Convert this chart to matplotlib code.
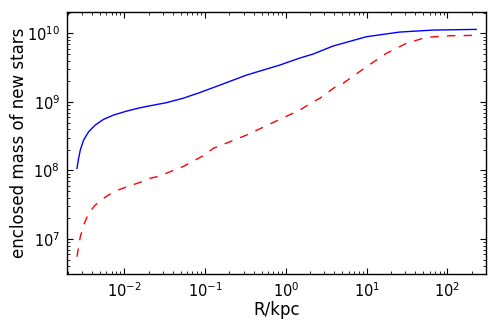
import numpy as np
import matplotlib
matplotlib.use("Agg")
import matplotlib.pyplot as plt

# log10(R/kpc), log10(M)
blue_logR = [-2.584, -2.564, -2.543, -2.502, -2.440, -2.358, -2.255, -2.131, -1.966, -1.802,
             -1.679, -1.481, -1.275, -1.070, -0.814, -0.485, -0.074, 0.173, 0.337, 0.584,
             0.997, 1.408, 1.819, 2.355]
blue_logM = [8.031, 8.177, 8.298, 8.444, 8.565, 8.663, 8.746, 8.809, 8.867, 8.915,
             8.944, 8.988, 9.052, 9.134, 9.246, 9.392, 9.538, 9.640, 9.698, 9.815,
             9.951, 10.019, 10.048, 10.058]
red_logR = [-2.584, -2.543, -2.493, -2.440, -2.358, -2.255, -2.131, -1.966, -1.802, -1.679,
            -1.564, -1.275, -1.028, -0.897, -0.485, -0.074, 0.173, 0.337, 0.420, 0.605,
            0.708, 0.997, 1.243, 1.490, 1.737, 2.025, 2.355]
red_logM = [6.742, 7.034, 7.229, 7.375, 7.496, 7.594, 7.690, 7.763, 7.827, 7.885,
            7.919, 8.055, 8.211, 8.323, 8.517, 8.746, 8.881, 9.003, 9.052, 9.213,
            9.271, 9.513, 9.708, 9.854, 9.942, 9.965, 9.971]

R_blue = 10 ** np.array(blue_logR)
M_blue = 10 ** np.array(blue_logM)
R_red = 10 ** np.array(red_logR)
M_red = 10 ** np.array(red_logM)

fig = plt.figure(figsize=(4.98, 3.32), dpi=100)
ax = fig.add_axes([0.1345, 0.175, 0.8415, 0.788])
ax.plot(R_blue, M_blue, color="blue", lw=1.0)
ax.plot(R_red, M_red, color="red", lw=1.0, linestyle=(0, (6, 6)))
ax.set_xscale("log")
ax.set_yscale("log")
ax.set_xlim(0.00196, 300)
ax.set_ylim(3.1e6, 2.03e10)
ax.set_xlabel("R/kpc", fontsize=12)
ax.set_ylabel("enclosed mass of new stars", fontsize=12)
ax.xaxis.set_label_coords(0.5, -0.105)
ax.yaxis.set_label_coords(-0.092, 0.5)
ax.tick_params(which="both", direction="in", top=True, right=True, labelsize=10.5)
ax.tick_params(which="major", length=4, width=0.8, pad=5)
ax.tick_params(which="minor", length=2, width=0.6)
for s in ax.spines.values():
    s.set_linewidth(1.0)
fig.savefig("out.png", dpi=100)
